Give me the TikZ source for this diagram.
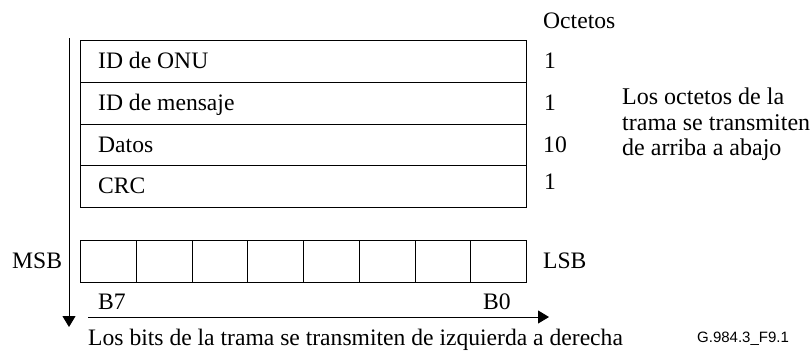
\documentclass[tikz,border=0pt]{standalone}
\usepackage{fontspec}
\setmainfont{Liberation Serif}
\newfontfamily\labsans{Liberation Sans}
\usetikzlibrary{arrows.meta}
\begin{document}
\begin{tikzpicture}[x=1pt,y=-1pt,
  lbl/.style={anchor=base west,inner sep=0pt,font=\fontsize{23.6}{23.6}\selectfont},
  field/.style={draw,line width=0.9pt,minimum width=446pt,minimum height=41.75pt,anchor=north west,inner sep=0pt},
  bitcell/.style={draw,line width=0.9pt,minimum width=55.75pt,minimum height=42pt,anchor=north west,inner sep=0pt},
  flow/.style={line width=1pt,-{Triangle[length=11pt,width=13pt]}}]
\useasboundingbox (0,0) rectangle (812,351);
% frame fields
\node[field] (r1) at (80,40) {};
\node[field] (r2) at (80,81.75) {};
\node[field] (r3) at (80,123.5) {};
\node[field] (r4) at (80,165.25) {};
\node[lbl] (t1) at (98,68.5) {ID de ONU};
\node[lbl] (t2) at (98,110) {ID de mensaje};
\node[lbl] (t3) at (98,152) {Datos};
\node[lbl] (t4) at (98,193.5) {CRC};
\node[lbl] (oct) at (543,28) {Octetos};
\node[lbl] (n1) at (544,68) {1};
\node[lbl] (n2) at (544,110) {1};
\node[lbl] (n3) at (543,152.5) {10};
\node[lbl] (n4) at (544,189) {1};
\node[lbl,font=\fontsize{24}{24}\selectfont] (d1) at (622,104) {Los octetos de la};
\node[lbl,font=\fontsize{24}{24}\selectfont] (d2) at (622,130) {trama se transmiten};
\node[lbl,font=\fontsize{24}{24}\selectfont] (d3) at (622,155) {de arriba a abajo};
% bits
\foreach \i in {0,...,7}{
  \node[bitcell] (b\i) at ({80+\i*55.75},240) {};
}
\node[lbl] (msb) at (12,268) {MSB};
\node[lbl] (lsb) at (543,268) {LSB};
\node[lbl] (b7) at (98,309) {B7};
\node[lbl] (b0) at (483,309) {B0};
% arrows
\coordinate (vs) at (69,38);
\coordinate (ve) at (69,327);
\draw[flow] (vs) -- (ve);
\coordinate (hs) at (88,317);
\coordinate (he) at (549,317);
\draw[flow] (hs) -- (he);
\node[lbl] (bot) at (88,345) {Los bits de la trama se transmiten de izquierda a derecha};
\node[lbl,font=\labsans\fontsize{15}{15}\selectfont] (fig) at (697,342) {G.984.3\_F9.1};
\end{tikzpicture}
\end{document}
